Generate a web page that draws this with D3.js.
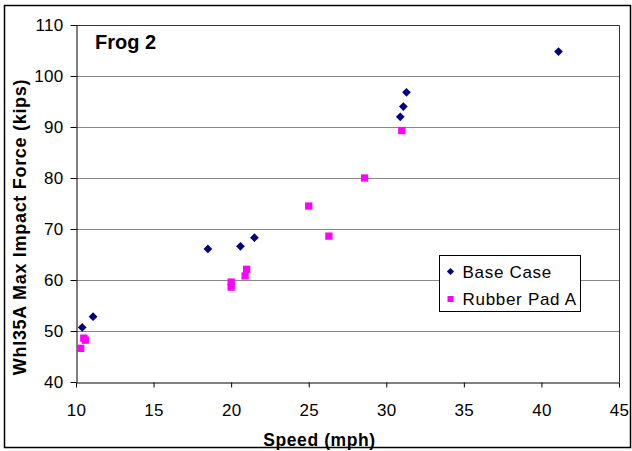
<!DOCTYPE html>
<html>
<head>
<meta charset="utf-8">
<script src="https://cdn.jsdelivr.net/npm/d3@7"></script>
<style>
  body { margin: 0; background: #fff; }
  text { font-family: "Liberation Sans", Arial, sans-serif; }
</style>
</head>
<body>
<svg id="chart" width="632" height="451"></svg>
<script>
// Base Case (navy diamonds)
var baseSpeed = [10.4, 11.1, 18.5, 20.6, 21.5, 30.9, 31.1, 31.3, 41.1];
var baseForce = [50.7, 52.8, 66.1, 66.6, 68.3, 92.0, 94.0, 96.8, 104.8];

// Rubber Pad A (magenta squares)
var padSpeed = [10.3, 10.5, 10.6, 20.0, 20.0, 20.9, 21.0, 25.0, 26.3, 28.6, 31.0];
var padForce = [46.6, 48.6, 48.2, 59.6, 58.6, 60.8, 62.1, 74.5, 68.6, 80.0, 89.3];

var xTicks = [10, 15, 20, 25, 30, 35, 40, 45];
var yTicks = [40, 50, 60, 70, 80, 90, 100, 110];

var svg = d3.select("#chart");

var x = d3.scaleLinear().domain([10, 45]).range([76, 619]);
var y = d3.scaleLinear().domain([40, 110]).range([382, 25]);

// Outer frame
svg.append("rect")
  .attr("x", 4.5).attr("y", 5.5)
  .attr("width", 626).attr("height", 442)
  .attr("fill", "none").attr("stroke", "#000").attr("stroke-width", 1.5);

// Grid lines
svg.append("g")
  .selectAll("line")
  .data(yTicks.slice(1))
  .join("line")
  .attr("x1", x(10)).attr("x2", x(45))
  .attr("y1", function (d) { return Math.round(y(d)) + 0.5; })
  .attr("y2", function (d) { return Math.round(y(d)) + 0.5; })
  .attr("stroke", "#888").attr("stroke-width", 1);

// Plot border (top and right)
svg.append("path")
  .attr("d", "M" + x(10) + "," + (y(110) + 0.5) + "H" + (x(45) + 0.5) + "V" + y(40))
  .attr("fill", "none").attr("stroke", "#333").attr("stroke-width", 1);

// Axes
var xAxis = svg.append("g")
  .attr("transform", "translate(0," + (y(40) + 0.5) + ")")
  .call(d3.axisBottom(x).tickValues(xTicks).tickSize(5).tickSizeOuter(0));
xAxis.selectAll("text").attr("y", 33).attr("dy", 0);

var yAxis = svg.append("g")
  .attr("transform", "translate(" + (x(10) + 0.5) + ",0)")
  .call(d3.axisLeft(y).tickValues(yTicks).tickSize(6).tickSizeOuter(0));
yAxis.selectAll("text").attr("x", -13).attr("dy", "0.35em");

[xAxis, yAxis].forEach(function (a) {
  a.selectAll("path, line").attr("stroke", "#000");
  a.selectAll("text")
    .attr("fill", "#000")
    .attr("font-size", 17)
    .attr("letter-spacing", 0.3)
    .attr("font-family", "Liberation Sans, Arial, sans-serif");
});

// Axis titles
svg.append("text")
  .attr("x", 320).attr("y", 445.5)
  .attr("font-size", 17.5).attr("font-weight", "bold")
  .attr("letter-spacing", 0.6)
  .text("Speed (mph)")
  .attr("x", function () { return 319.5 - this.getComputedTextLength() / 2; });

svg.append("text")
  .attr("transform", "translate(26,227) rotate(-90)")
  .attr("text-anchor", "middle")
  .attr("font-size", 18).attr("font-weight", "bold")
  .attr("letter-spacing", 0.7)
  .text("Whl35A Max Impact Force (kips)");

// Annotation
svg.append("text")
  .attr("x", 95).attr("y", 49)
  .attr("font-size", 20).attr("font-weight", "bold")
  .text("Frog 2");

// Points
var diamond = d3.symbol().type(d3.symbolSquare).size(38);
var square = d3.symbol().type(d3.symbolSquare).size(53);

svg.append("g")
  .selectAll("path")
  .data(padSpeed.map(function (s, i) { return [s, padForce[i]]; }))
  .join("path")
  .attr("d", square)
  .attr("transform", function (d) { return "translate(" + x(d[0]) + "," + y(d[1]) + ")"; })
  .attr("fill", "#ff00ff");

svg.append("g")
  .selectAll("path")
  .data(baseSpeed.map(function (s, i) { return [s, baseForce[i]]; }))
  .join("path")
  .attr("d", diamond)
  .attr("transform", function (d) { return "translate(" + x(d[0]) + "," + y(d[1]) + ") rotate(45)"; })
  .attr("fill", "#000080");

// Legend
var legend = svg.append("g").attr("transform", "translate(439.5,255.5)");
legend.append("rect")
  .attr("width", 141).attr("height", 56)
  .attr("fill", "#fff").attr("stroke", "#000").attr("stroke-width", 1);

var legendItems = [
  { label: "Base Case", color: "#000080", size: 26, rot: 45, cy: 16, base: 22 },
  { label: "Rubber Pad A", color: "#ff00ff", size: 36, rot: 0, cy: 43.5, base: 49.5 }
];
legendItems.forEach(function (it) {
  legend.append("path")
    .attr("d", d3.symbol().type(d3.symbolSquare).size(it.size))
    .attr("transform", "translate(11," + it.cy + ") rotate(" + it.rot + ")")
    .attr("fill", it.color);
  legend.append("text")
    .attr("x", 23).attr("y", it.base)
    .attr("font-size", 17)
    .attr("letter-spacing", 0.7)
    .text(it.label);
});
</script>
</body>
</html>
